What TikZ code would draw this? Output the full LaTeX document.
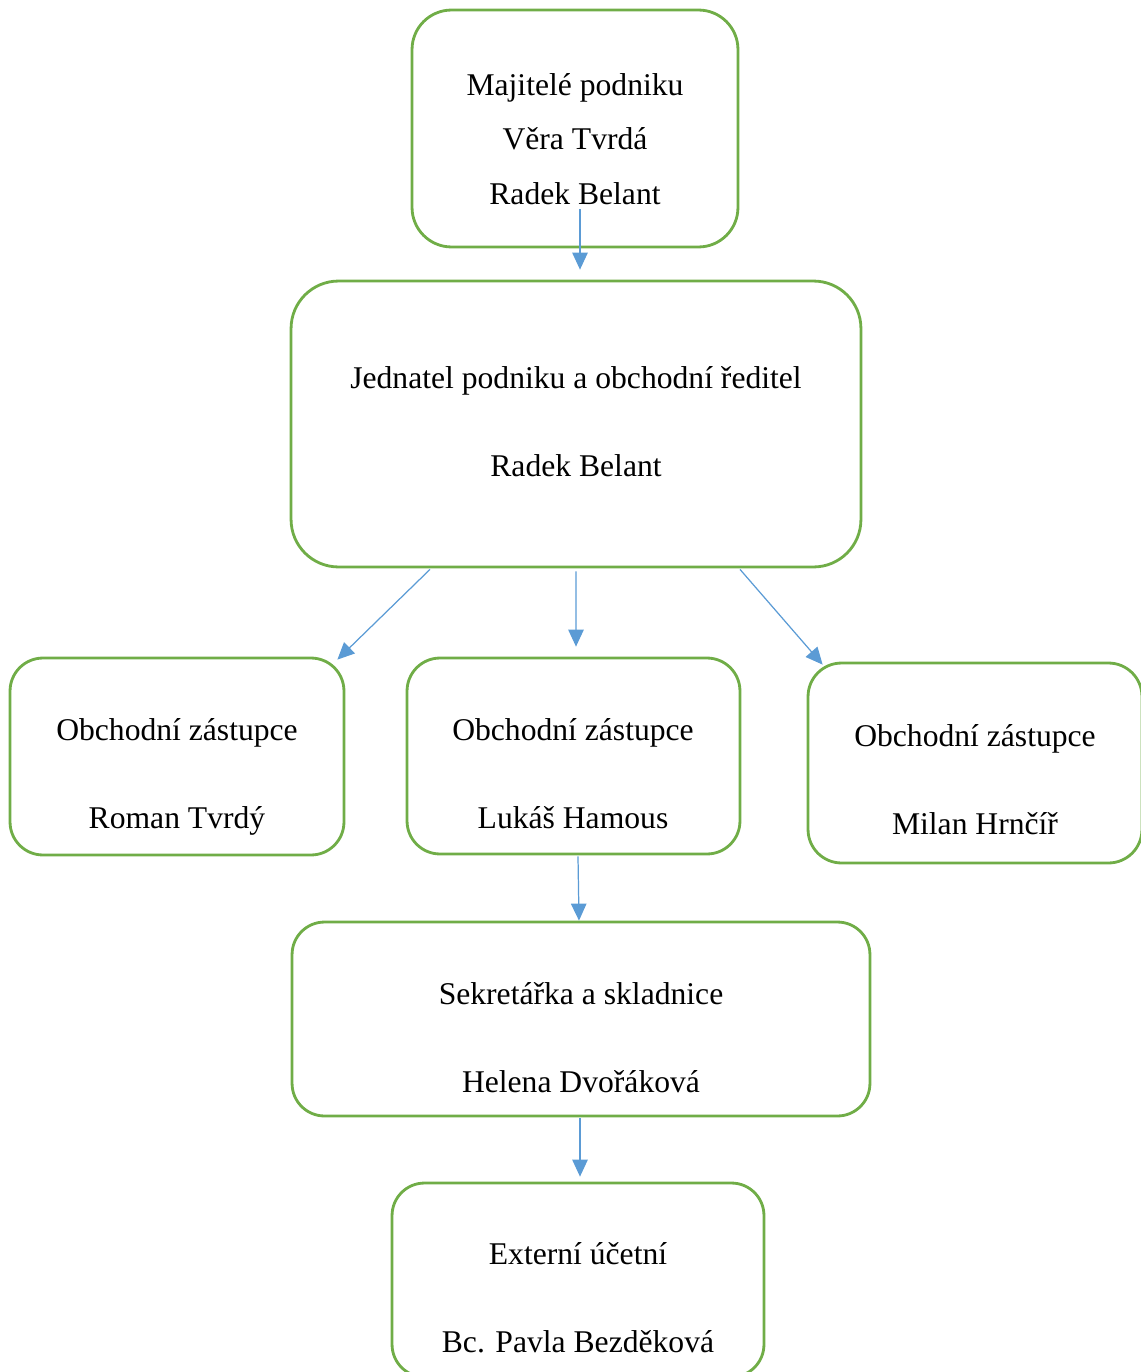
\documentclass[tikz,border=0pt]{standalone}
\usepackage{fontspec}
\setmainfont{Liberation Serif}
\usepackage{tikz}
\usetikzlibrary{arrows.meta, positioning, calc}
\definecolor{mygreen}{RGB}{112,173,71}
\definecolor{myblue}{RGB}{91,155,213}
\tikzset{
  block/.style={rectangle, draw=mygreen, fill=white, line width=1.6pt,
    inner sep=0pt},
  txt/.style={align=center, inner sep=0pt,
    font=\fontsize{18}{31}\selectfont},
  arrow/.style={-{Triangle[length=0.34cm,width=0.31cm]}, line width=0.7pt, color=myblue}
}

\begin{document}
\begin{tikzpicture}[x=0.02cm, y=-0.02cm]
  \useasboundingbox (0,0) rectangle (1140,1372);

  % Boxes
  \node[block, minimum width=6.52cm, minimum height=4.74cm, rounded corners=0.79cm] (own) at (575,128.5) {};
  \node[block, minimum width=11.4cm, minimum height=5.72cm, rounded corners=0.95cm] (jed) at (576,424) {};
  \node[block, minimum width=6.68cm, minimum height=3.94cm, rounded corners=0.66cm] (zl) at (177,756.5) {};
  \node[block, minimum width=6.66cm, minimum height=3.92cm, rounded corners=0.66cm] (zc) at (573.5,756) {};
  \node[block, minimum width=6.68cm, minimum height=4.0cm, rounded corners=0.67cm] (zr) at (975,763) {};
  \node[block, minimum width=11.56cm, minimum height=3.88cm, rounded corners=0.65cm] (sek) at (581,1019) {};
  \node[block, minimum width=7.44cm, minimum height=3.88cm, rounded corners=0.65cm] (ext) at (578,1280) {};

  % Texts
  \node[txt] (own-t) at (575,139) {Majitelé podniku\\Věra Tvrdá\\Radek Belant};
  \node[txt] (jed-t) at (576,422) {Jednatel podniku a obchodní ředitel\\[19pt]Radek Belant};
  \node[txt] (zl-t) at (177,777) {Obchodní zástupce\\[19pt]Roman Tvrdý};
  \node[txt] (zc-t) at (573,774) {Obchodní zástupce\\[19pt]Lukáš Hamous};
  \node[txt] (zr-t) at (975,780) {Obchodní zástupce\\[19pt]Milan Hrnčíř};
  \node[txt] (sek-t) at (581,1038) {Sekretářka a skladnice\\[19pt]Helena Dvořáková};
  \node[txt] (ext-t) at (578,1298) {Externí účetní\\[19pt]Bc. Pavla Bezděková};

  % Arrows
  \draw[arrow] ($(own.south)+(5,-39)$) -- ($(jed.north)+(4,-10)$);
  \draw[arrow] ($(jed.south)+(-146,1)$) -- ($(zl.north east)+(-8,3)$);
  \draw[arrow] ($(jed.south)+(0,3)$) -- ($(zc.north)+(2.5,-10)$);
  \draw[arrow] ($(jed.south)+(164,1)$) -- ($(zr.north west)+(16,3)$);
  \draw[arrow] ($(zc.south)+(4.5,1)$) -- ($(sek.north)+(-2,0)$);
  \draw[arrow] ($(sek.south)+(-1,1)$) -- ($(ext.north)+(2,-5)$);
\end{tikzpicture}
\end{document}
